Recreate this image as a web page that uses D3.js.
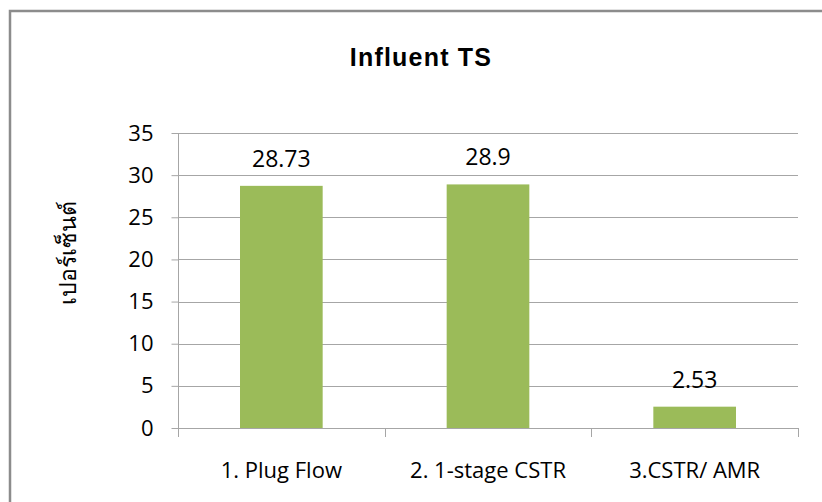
<!DOCTYPE html>
<html>
<head>
<meta charset="utf-8">
<script src="https://cdn.jsdelivr.net/npm/d3@7"></script>
<style>
	body { margin: 0; background: #fff; }
	text { font-family: "Open Sans", "Noto Sans", sans-serif; fill: #000; }
</style>
</head>
<body>
<svg id="chart" width="822" height="502"></svg>
<script>

// data
var categories = ["1. Plug Flow", "2. 1-stage CSTR", "3.CSTR/ AMR"],
	values = [28.73, 28.9, 2.53],
	yTicks = [0, 5, 10, 15, 20, 25, 30, 35];

var width = 822,
	height = 502,
	m = [133, 24, 74, 178]; // top right bottom left

var svg = d3.select("#chart");

// outer frame
svg.append("rect")
	.attr("x", 10)
	.attr("y", 11)
	.attr("width", width)
	.attr("height", height)
	.attr("fill", "none")
	.attr("stroke", "#8c8c8c")
	.attr("stroke-width", 2.5);

var xScale = d3.scaleBand()
	.domain(categories)
	.range([m[3], width - m[1]])
	.paddingInner(0)
	.paddingOuter(0);

var yScale = d3.scaleLinear()
	.domain([0, 35])
	.range([height - m[2], m[0]]);

// gridlines
svg.append("g")
	.selectAll("line")
	.data(yTicks.filter(d => d > 0))
	.enter()
	.append("line")
	.attr("x1", m[3])
	.attr("x2", width - m[1])
	.attr("y1", d => Math.round(yScale(d)) + .5)
	.attr("y2", d => Math.round(yScale(d)) + .5)
	.attr("stroke", "#a6a6a6");

// y axis
var yAxis = d3.axisLeft(yScale)
	.tickValues(yTicks)
	.tickSize(7)
	.tickPadding(18)
	.tickFormat(d3.format("d"));

var gy = svg.append("g")
	.attr("transform", "translate(" + (m[3] + .5) + ",0)")
	.call(yAxis);
gy.selectAll("path, line").attr("stroke", "#a6a6a6");
gy.select(".domain").attr("d", `M0,${yScale(35)} V${yScale(0)}`);
gy.selectAll("text")
	.style("font-size", "22px")
	.style("font-family", "'Open Sans', sans-serif")
	.attr("fill", "#000");

// bars
var bw = xScale.bandwidth() * .4;
svg.append("g")
	.selectAll("rect")
	.data(values)
	.enter()
	.append("rect")
	.attr("x", (d, i) => xScale(categories[i]) + (xScale.bandwidth() - bw) / 2)
	.attr("y", d => yScale(d))
	.attr("width", bw)
	.attr("height", d => yScale(0) - yScale(d))
	.attr("fill", "#9bbb59");

// x axis
var xAxis = d3.axisBottom(xScale)
	.tickSize(0)
	.tickPadding(34);

var gx = svg.append("g")
	.attr("transform", "translate(0," + (Math.round(yScale(0)) + .5) + ")")
	.call(xAxis);
gx.select(".domain").attr("stroke", "#a6a6a6").attr("d", `M${m[3]},0 H${width - m[1]}`);
gx.selectAll("text")
	.style("font-size", "22px")
	.style("font-family", "'Open Sans', sans-serif")
	.attr("fill", "#000");

// category separators
svg.append("g")
	.selectAll("line")
	.data(categories.concat(["end"]))
	.enter()
	.append("line")
	.attr("x1", (d, i) => Math.round(m[3] + i * xScale.bandwidth()) + .5)
	.attr("x2", (d, i) => Math.round(m[3] + i * xScale.bandwidth()) + .5)
	.attr("y1", yScale(0))
	.attr("y2", yScale(0) + 9)
	.attr("stroke", "#a6a6a6");

// value labels
svg.append("g")
	.selectAll("text")
	.data(values)
	.enter()
	.append("text")
	.attr("x", (d, i) => xScale(categories[i]) + xScale.bandwidth() / 2)
	.attr("y", d => yScale(d) - 19)
	.attr("text-anchor", "middle")
	.style("font-size", "23px")
	.text(d => d);

// title
svg.append("text")
	.attr("x", 421)
	.attr("y", 66)
	.attr("text-anchor", "middle")
	.style("font-family", "'Liberation Sans', Arial, sans-serif")
	.style("font-weight", "bold")
	.style("font-size", "25px")
	.style("letter-spacing", "1.2px")
	.text("Influent TS");

// y label
svg.append("text")
	.attr("transform", "translate(76,253) rotate(-90)")
	.attr("text-anchor", "middle")
	.style("font-size", "23px")
	.style("font-family", "'Noto Sans', sans-serif")
	.text("เปอร์เซ็นต์");

</script>
</body>
</html>
